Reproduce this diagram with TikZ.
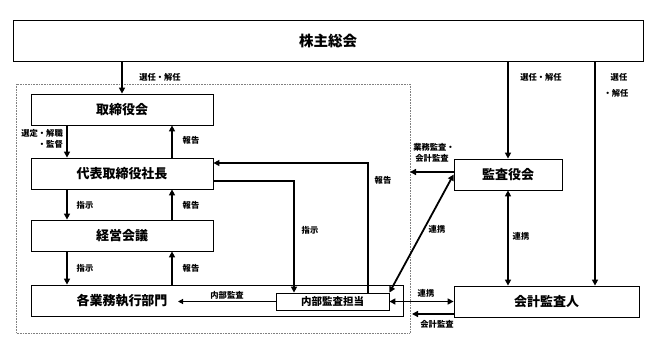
\documentclass[tikz,border=0pt]{standalone}
\usepackage{fontspec}
\setmainfont{Noto Sans CJK JP}
\usetikzlibrary{arrows.meta}
\begin{document}
\begin{tikzpicture}[x=1pt,y=-1pt,
  box/.style={draw, line width=0.8pt, fill=white, inner sep=0pt, font=\fontsize{13}{14}\selectfont\bfseries},
  lbl/.style={inner sep=0pt, font=\fontsize{8.3}{9}\selectfont\bfseries},
  arr/.style={line width=1.8pt, -{Triangle[width=6pt,length=6pt]}},
  darr/.style={line width=1.8pt, {Triangle[width=6pt,length=6pt]}-{Triangle[width=6pt,length=6pt]}},
  tarr/.style={line width=1.1pt, -{Triangle[width=5pt,length=5pt]}},
  frame/.style={draw=gray, densely dotted, line width=0.6pt}]
\useasboundingbox (0,0) rectangle (654,352);
\draw[frame] (16,84) rectangle (410,333);
\node[box, minimum width=630pt, minimum height=41pt, font=\fontsize{14.5}{15}\selectfont\bfseries] (kabu) at (328,40.5) {株主総会};
\node[box, minimum width=182pt, minimum height=31pt] (tori) at (122,109.5) {取締役会};
\node[box, minimum width=182pt, minimum height=31pt] (daihyo) at (122,173.5) {代表取締役社長};
\node[box, minimum width=182pt, minimum height=31pt] (keiei) at (122,235.5) {経営会議};
\node[box, minimum width=372pt, minimum height=31pt] (gyomu) at (217,300.5) {};
\node[inner sep=0pt, font=\fontsize{13}{14}\selectfont\bfseries] (gyomutxt) at (122,300.5) {各業務執行部門};
\node[box, minimum width=113pt, minimum height=17pt, font=\fontsize{10.5}{11}\selectfont\bfseries] (naibu) at (332.5,301.5) {内部監査担当};
\node[box, minimum width=108pt, minimum height=31pt] (kansa) at (508,174.5) {監査役会};
\node[box, minimum width=185pt, minimum height=31pt] (kaikei) at (546.5,301.5) {会計監査人};
\coordinate (cl) at (67,0);
\coordinate (cr) at (172,0);
\coordinate (kx) at (595,0);
\coordinate (dashR) at (410,172);
\coordinate (kaiEnd) at (412,314);
\coordinate (naEnd) at (178,301.5);
\coordinate (hx) at (368,163);
\coordinate (sx) at (294,181);
% arrows
\draw[arr] (kabu.south -| tori) -- (tori.north);
\draw[arr] (tori.south -| cl) -- (daihyo.north -| cl);
\draw[arr] (daihyo.north -| cr) -- (tori.south -| cr);
\draw[arr] (daihyo.south -| cl) -- (keiei.north -| cl);
\draw[arr] (keiei.north -| cr) -- (daihyo.south -| cr);
\draw[arr] (keiei.south -| cl) -- (gyomu.north -| cl);
\draw[arr] (gyomu.north -| cr) -- (keiei.south -| cr);
\draw[arr] (kabu.south -| kansa) -- (kansa.north);
\draw[arr] (kabu.south -| kx) -- (kaikei.north -| kx);
\draw[darr] (kansa.south) -- (kaikei.north -| kansa);
\draw[arr] (kansa.west |- dashR) -- (dashR);
\draw[darr] (naibu.north east) -- (kansa.west);
\draw[darr] (naibu.east) -- (kaikei.west |- naibu.east);
\draw[arr] (kaikei.west |- kaiEnd) -- (kaiEnd);
\draw[tarr] (naibu.west) -- (naEnd);
\draw[arr] (naibu.north -| hx) -- (hx) -- (daihyo.east |- hx);
\draw[arr] (daihyo.east |- sx) -- (sx) -- (naibu.north -| sx);
% labels
\node[lbl] (l1) at (160,77) {選任・解任};
\node[lbl, anchor=east] (l2) at (63,133.5) {選定・解職};
\node[lbl, anchor=east] (l3) at (63,144) {・監督};
\node[lbl] (l4) at (191,140) {報告};
\node[lbl] (l5) at (191,205) {報告};
\node[lbl] (l6) at (191,268) {報告};
\node[lbl] (l7) at (85,205) {指示};
\node[lbl] (l8) at (85,268) {指示};
\node[lbl] (l9) at (310,230) {指示};
\node[lbl] (l10) at (383,180) {報告};
\node[lbl] (l11) at (227,295) {内部監査};
\node[lbl] (l12) at (434,147) {業務監査・};
\node[lbl] (l13) at (432,158) {会計監査};
\node[lbl] (l14) at (437,229) {連携};
\node[lbl] (l15) at (521,236) {連携};
\node[lbl] (l16) at (426,293) {連携};
\node[lbl] (l17) at (437,324) {会計監査};
\node[lbl] (l18) at (541,77) {選任・解任};
\node[lbl] (l19) at (619,77) {選任};
\node[lbl] (l20) at (616,93) {・解任};
\end{tikzpicture}
\end{document}
